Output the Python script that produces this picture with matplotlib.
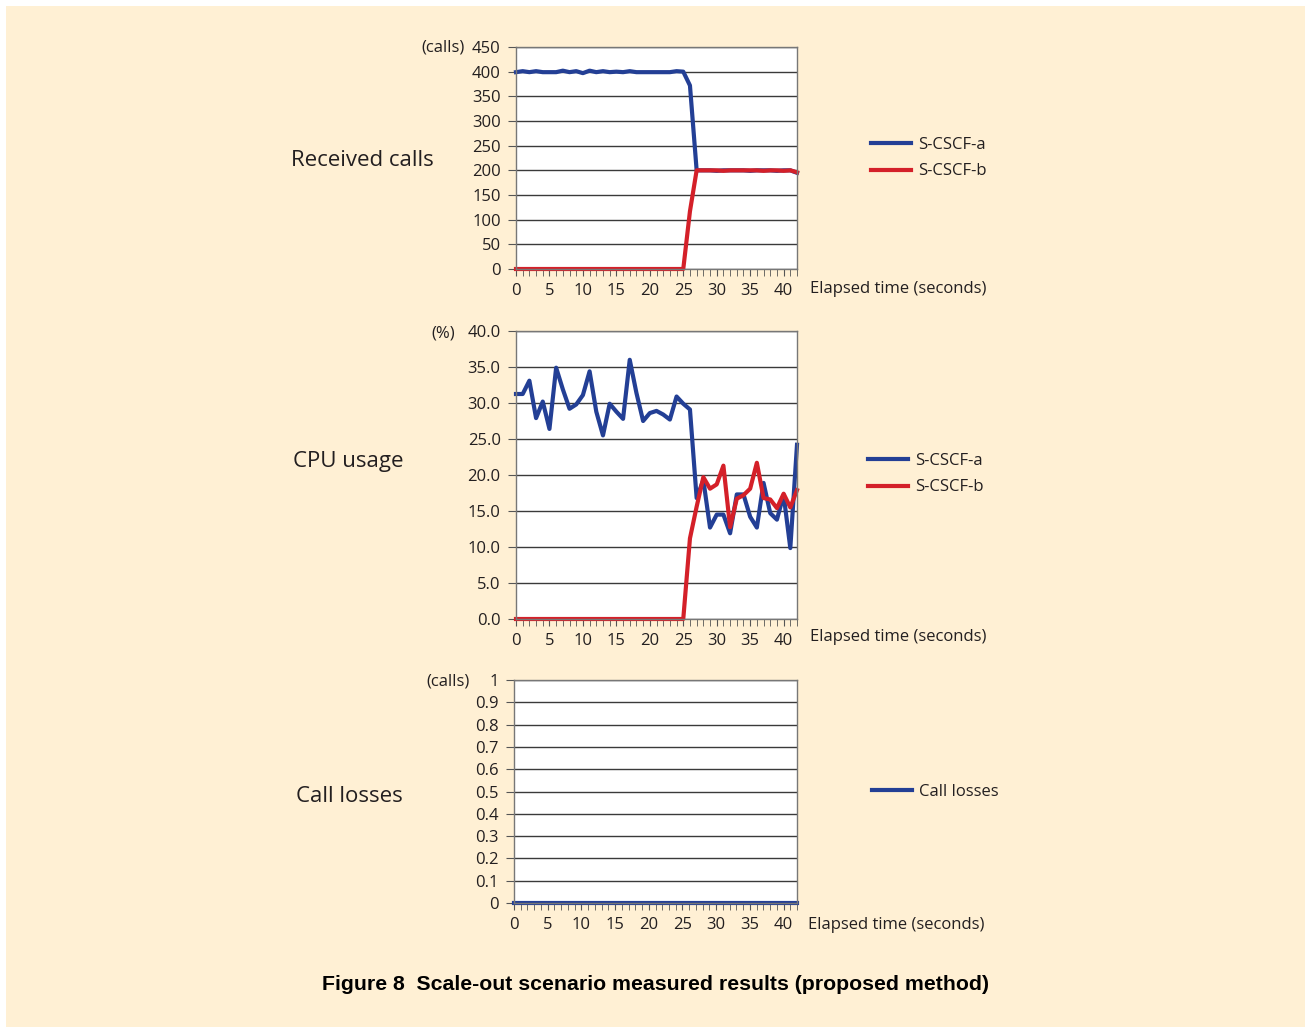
import numpy as np
import matplotlib
matplotlib.use("Agg")
import matplotlib.pyplot as plt
from matplotlib.patches import Rectangle
from matplotlib.ticker import MultipleLocator, FormatStrFormatter

plt.rcParams['font.family'] = ['Open Sans', 'DejaVu Sans']

# elapsed time (seconds)
seconds = list(range(43))

# received calls
calls_a = [399, 401, 399, 401, 399, 399, 399, 402, 399, 401, 397, 402, 399, 401, 399,
           400, 399, 401, 399, 399, 399, 399, 399, 399, 401, 400, 372, 200,
           200, 200, 199, 200, 200, 200, 200, 199, 200, 200, 200, 199, 200, 200, 195]
calls_b = [0] * 26 + [117, 200,
                      200, 200, 200, 199, 200, 200, 200, 200, 200, 199, 200, 200, 199, 200, 196]

# CPU usage (%)
cpu_a = [31.25, 31.25, 33.1, 27.9, 30.2, 26.4, 34.9, 31.9, 29.2, 29.8, 31.1, 34.4, 28.8,
         25.5, 29.9, 28.8, 27.8, 36.0, 31.4, 27.5, 28.6, 28.9, 28.4, 27.7, 30.9, 29.9,
         29.1, 16.8, 19.3, 12.7, 14.5, 14.5, 11.9, 17.3, 17.3, 14.2, 12.7, 18.9, 14.7,
         13.8, 17.25, 9.85, 24.2]
cpu_b = [0.0] * 26 + [11.2, 15.6, 19.7, 18.1, 18.7, 21.3, 12.75, 16.7, 17.2, 18.1, 21.7,
                      16.8, 16.6, 15.4, 17.4, 15.5, 17.9]

# call losses
losses = [0] * 43
loss_ticks = [0, 0.1, 0.2, 0.3, 0.4, 0.5, 0.6, 0.7, 0.8, 0.9, 1]
loss_labels = ['0', '0.1', '0.2', '0.3', '0.4', '0.5', '0.6', '0.7', '0.8', '0.9', '1']

BLUE = '#233f95'
RED = '#d42029'
CREAM = '#fff0d4'
TXT = '#231f20'

W, H = 1305, 1027
fig = plt.figure(figsize=(W / 100, H / 100), dpi=100, facecolor='white')
fig.patches.append(Rectangle((6 / W, 0), 1 - 6 / W, 1 - 6 / H, transform=fig.transFigure,
                             facecolor=CREAM, edgecolor='none', zorder=-10))


def fx(px):
    return px / W


def fy(py):
    return 1 - py / H


def make_axes(left, right, top, bottom):
    ax = fig.add_axes([fx(left), fy(bottom), fx(right - left), (bottom - top) / H])
    ax.set_facecolor('white')
    for s in ax.spines.values():
        s.set_color('#777777')
        s.set_linewidth(1)
    ax.grid(axis='y', color='#3a3a3a', linewidth=1)
    ax.set_axisbelow(True)
    ax.set_xlim(0, 42)
    ax.xaxis.set_major_locator(MultipleLocator(5))
    ax.xaxis.set_minor_locator(MultipleLocator(1))
    ax.tick_params(axis='x', which='both', direction='out', length=5, color='#555555',
                   labelsize=12, labelcolor=TXT, pad=5)
    ax.tick_params(axis='y', direction='out', length=6, color='#555555',
                   labelsize=12, labelcolor=TXT, pad=5)
    ax.set_xticks([0, 5, 10, 15, 20, 25, 30, 35, 40])
    return ax


def legend(ax, x, y):
    fig.legend(handles=ax.get_lines(), loc='center left', bbox_to_anchor=(fx(x), fy(y)),
               frameon=False, fontsize=12, handlelength=2.4, handletextpad=0.45,
               labelspacing=0.65, borderpad=0, borderaxespad=0, labelcolor=TXT)


# Received calls
ax1 = make_axes(516, 797, 47, 269)
ax1.plot(seconds, calls_a, color=BLUE, lw=3, label='S-CSCF-a', clip_on=False)
ax1.plot(seconds, calls_b, color=RED, lw=3, label='S-CSCF-b', clip_on=False)
ax1.set_ylim(0, 450)
ax1.yaxis.set_major_locator(MultipleLocator(50))
legend(ax1, 871, 158)
fig.text(fx(465), fy(48), '(calls)', ha='right', va='center', fontsize=12, color=TXT)
fig.text(fx(291), fy(161), 'Received calls', ha='left', va='center', fontsize=16, color=TXT)
fig.text(fx(810), fy(289), 'Elapsed time (seconds)', ha='left', va='center', fontsize=12, color=TXT)

# CPU usage
ax2 = make_axes(516, 797, 331, 619)
ax2.plot(seconds, cpu_a, color=BLUE, lw=3, label='S-CSCF-a', clip_on=False)
ax2.plot(seconds, cpu_b, color=RED, lw=3, label='S-CSCF-b', clip_on=False)
ax2.set_ylim(0, 40)
ax2.yaxis.set_major_locator(MultipleLocator(5))
ax2.yaxis.set_major_formatter(FormatStrFormatter('%.1f'))
legend(ax2, 868, 474)
fig.text(fx(455), fy(333), '(%)', ha='right', va='center', fontsize=12, color=TXT)
fig.text(fx(293), fy(461), 'CPU usage', ha='left', va='center', fontsize=16, color=TXT)
fig.text(fx(810), fy(637), 'Elapsed time (seconds)', ha='left', va='center', fontsize=12, color=TXT)

# Call losses
ax3 = make_axes(514, 797, 680, 903)
ax3.plot(seconds, losses, color=BLUE, lw=3, label='Call losses', clip_on=False)
ax3.set_ylim(0, 1)
ax3.set_yticks(loss_ticks)
ax3.set_yticklabels(loss_labels)
legend(ax3, 872, 792)
fig.text(fx(470), fy(682), '(calls)', ha='right', va='center', fontsize=12, color=TXT)
fig.text(fx(296), fy(796), 'Call losses', ha='left', va='center', fontsize=16, color=TXT)
fig.text(fx(808), fy(925), 'Elapsed time (seconds)', ha='left', va='center', fontsize=12, color=TXT)

fig.text(fx(656), fy(985), 'Figure 8  Scale-out scenario measured results (proposed method)',
         ha='center', va='center', fontsize=15.3, fontweight='bold', color='black',
         family=['Liberation Sans', 'DejaVu Sans'])

fig.savefig('out.png', dpi=100, facecolor=fig.get_facecolor())
